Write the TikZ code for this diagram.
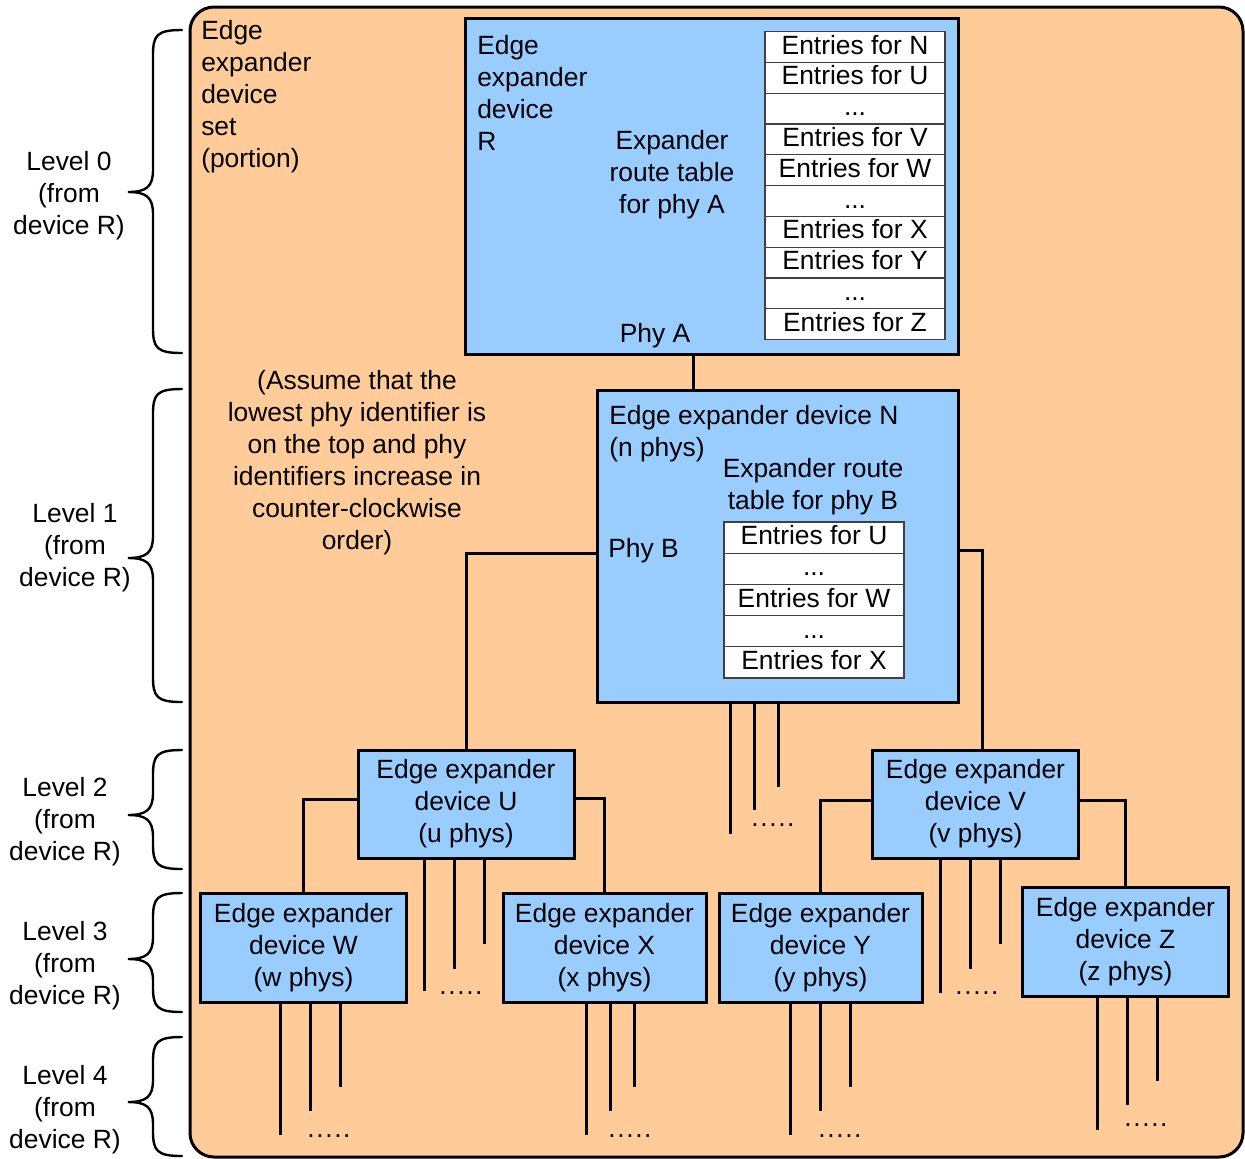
\documentclass[tikz,border=0pt]{standalone}
\usepackage{fontspec}
\setmainfont{Liberation Sans}
\definecolor{peach}{HTML}{FFCC99}
\definecolor{devblue}{HTML}{99CCFF}
\newcommand\fs{\fontsize{19.8}{24}\selectfont}
\newcommand\fivedots{.\kern1.2pt.\kern1.2pt.\kern1.2pt.\kern1.2pt.}
\newcommand\levbrace[3]{%
  \draw[bracestyle] (182,#1) .. controls (157,#1) and (153,{#1+5}) .. (153,{#1+25})
    -- (153,{#3-22}) .. controls (153,{#3-5}) and (146,#3) .. (128,#3)
    .. controls (146,#3) and (153,{#3+5}) .. (153,{#3+22})
    -- (153,{#2-25}) .. controls (153,{#2-5}) and (157,#2) .. (182,#2);}
\begin{document}
\begin{tikzpicture}[x=0.75pt,y=-0.75pt,font=\fs,
  dev/.style={draw,line width=2.25pt,fill=devblue,inner sep=0pt,align=center},
  smallbox/.style={minimum width=154pt,minimum height=81.75pt},
  wire/.style={line width=2.25pt},
  cell/.style={draw=black!75,line width=0.8pt,fill=white,minimum width=135pt,inner sep=0pt,text height=14.5pt,text depth=4pt},
  lbl/.style={inner sep=0pt,align=center},
  lbll/.style={inner sep=0pt,align=left,anchor=west},
  dots/.style={inner sep=0pt,anchor=base},
  bracestyle/.style={line width=1.8pt,line cap=round}
]
\useasboundingbox (0,0) rectangle (1245,1158);

% outer set
\node[draw,line width=2.25pt,fill=peach,rounded corners=18pt,minimum width=789.75pt,minimum height=862.5pt,inner sep=0pt] (set) at (716.5,582) {};
\node[lbll] (setlbl) at (201,97) {Edge\\expander\\device\\set\\(portion)};

% level braces and labels
\levbrace{30}{353}{192}
\levbrace{389}{702}{558}
\levbrace{750}{869}{815}
\levbrace{893}{1012}{959}
\levbrace{1037}{1156}{1102}
\node[lbl] (lv0) at (69,196) {Level 0\\(from\\device R)};
\node[lbl] (lv1) at (75,548) {Level 1\\(from\\device R)};
\node[lbl] (lv2) at (65,822) {Level 2\\(from\\device R)};
\node[lbl] (lv3) at (65,966) {Level 3\\(from\\device R)};
\node[lbl] (lv4) at (65,1110) {Level 4\\(from\\device R)};

% device R
\node[dev,minimum width=369.75pt,minimum height=252pt] (R) at (711.5,186) {};
\node[lbll] (Rlbl) at (477,93) {Edge\\expander\\device\\R};
\node[lbl] (Rrt) at (672,175) {Expander\\route table\\for phy A};
\node[lbl] (phyA) at (655,336) {Phy A};
\node[cell,minimum height=23.1pt] (rt0) at (855,47.0) {Entries for N};
\node[cell,minimum height=23.1pt] (rt1) at (855,77.8) {Entries for U};
\node[cell,minimum height=23.1pt] (rt2) at (855,108.6) {...};
\node[cell,minimum height=23.1pt] (rt3) at (855,139.4) {Entries for V};
\node[cell,minimum height=23.1pt] (rt4) at (855,170.2) {Entries for W};
\node[cell,minimum height=23.1pt] (rt5) at (855,201.0) {...};
\node[cell,minimum height=23.1pt] (rt6) at (855,231.8) {Entries for X};
\node[cell,minimum height=23.1pt] (rt7) at (855,262.6) {Entries for Y};
\node[cell,minimum height=23.1pt] (rt8) at (855,293.4) {...};
\node[cell,minimum height=23.1pt] (rt9) at (855,324.2) {Entries for Z};

% note
\node[lbl] (note) at (357,463) {(Assume that the\\lowest phy identifier is\\on the top and phy\\identifiers increase in\\counter-clockwise\\order)};

% device N
\node[dev,minimum width=270.75pt,minimum height=234pt] (N) at (777.5,546) {};
\node[lbll] (Nlbl) at (609,434) {Edge expander device N\\(n phys)};
\node[lbl] (Nrt) at (813,487) {Expander route\\table for phy B};
\node[lbll] (phyB) at (608,551) {Phy B};
\node[cell,minimum height=23.4pt] (nt0) at (814,537.6) {Entries for U};
\node[cell,minimum height=23.4pt] (nt1) at (814,568.8) {...};
\node[cell,minimum height=23.4pt] (nt2) at (814,600.0) {Entries for W};
\node[cell,minimum height=23.4pt] (nt3) at (814,631.2) {...};
\node[cell,minimum height=23.4pt] (nt4) at (814,662.4) {Entries for X};

% level 2 and 3 devices
\node[dev,minimum width=162pt,minimum height=81pt] (U) at (466,804) {Edge expander\\device U\\(u phys)};
\node[dev,smallbox,minimum height=81pt] (V) at (975.5,804) {Edge expander\\device V\\(v phys)};
\node[dev,smallbox] (W) at (303.5,947.5) {Edge expander\\device W\\(w phys)};
\node[dev,smallbox,minimum width=152.25pt] (X) at (604.5,947.5) {Edge expander\\device X\\(x phys)};
\node[dev,smallbox,minimum width=152.25pt] (Y) at (820.5,947.5) {Edge expander\\device Y\\(y phys)};
\node[dev,smallbox] (Z) at (1125.5,941.5) {Edge expander\\device Z\\(z phys)};

% ports
\coordinate (pA) at (693,354);
\coordinate (nL) at (597,553);
\coordinate (nR) at (958,550);
\coordinate (vT) at (982,750);
\coordinate (uL) at (358,799);
\coordinate (uR) at (574,798);
\coordinate (vL) at (873,800);
\coordinate (vR) at (1078,800);

% connectors
\draw[wire] (pA) -- (pA |- N.north);
\draw[wire] (nL) -| (U.north);
\draw[wire] (nR) -| (vT);
\draw[wire] (uL) -| (W.north);
\draw[wire] (uR) -| (X.north);
\draw[wire] (vL) -| (Y.north);
\draw[wire] (vR) -| (Z.north);

% stubs
\draw[wire] (N.south -| 730,0) -- (730,834);
\draw[wire] (N.south -| 754,0) -- (754,810);
\draw[wire] (N.south -| 778,0) -- (778,787);
\node[dots] (dN) at (773,826) {\fivedots};
\draw[wire] (U.south -| 424,0) -- (424,991);
\draw[wire] (U.south -| 454,0) -- (454,969);
\draw[wire] (U.south -| 484,0) -- (484,944);
\node[dots] (dU) at (461,994) {\fivedots};
\draw[wire] (V.south -| 940,0) -- (940,993);
\draw[wire] (V.south -| 970,0) -- (970,969);
\draw[wire] (V.south -| 1000,0) -- (1000,944);
\node[dots] (dV) at (977,994) {\fivedots};
\draw[wire] (W.south -| 280,0) -- (280,1135);
\draw[wire] (W.south -| 310,0) -- (310,1111);
\draw[wire] (W.south -| 340,0) -- (340,1087);
\node[dots] (dW) at (329,1137) {\fivedots};
\draw[wire] (X.south -| 586,0) -- (586,1135);
\draw[wire] (X.south -| 610,0) -- (610,1111);
\draw[wire] (X.south -| 634,0) -- (634,1087);
\node[dots] (dX) at (630,1137) {\fivedots};
\draw[wire] (Y.south -| 790,0) -- (790,1135);
\draw[wire] (Y.south -| 820,0) -- (820,1111);
\draw[wire] (Y.south -| 850,0) -- (850,1087);
\node[dots] (dY) at (840,1137) {\fivedots};
\draw[wire] (Z.south -| 1097,0) -- (1097,1130);
\draw[wire] (Z.south -| 1127,0) -- (1127,1105);
\draw[wire] (Z.south -| 1157,0) -- (1157,1081);
\node[dots] (dZ) at (1146,1126) {\fivedots};
\end{tikzpicture}
\end{document}
